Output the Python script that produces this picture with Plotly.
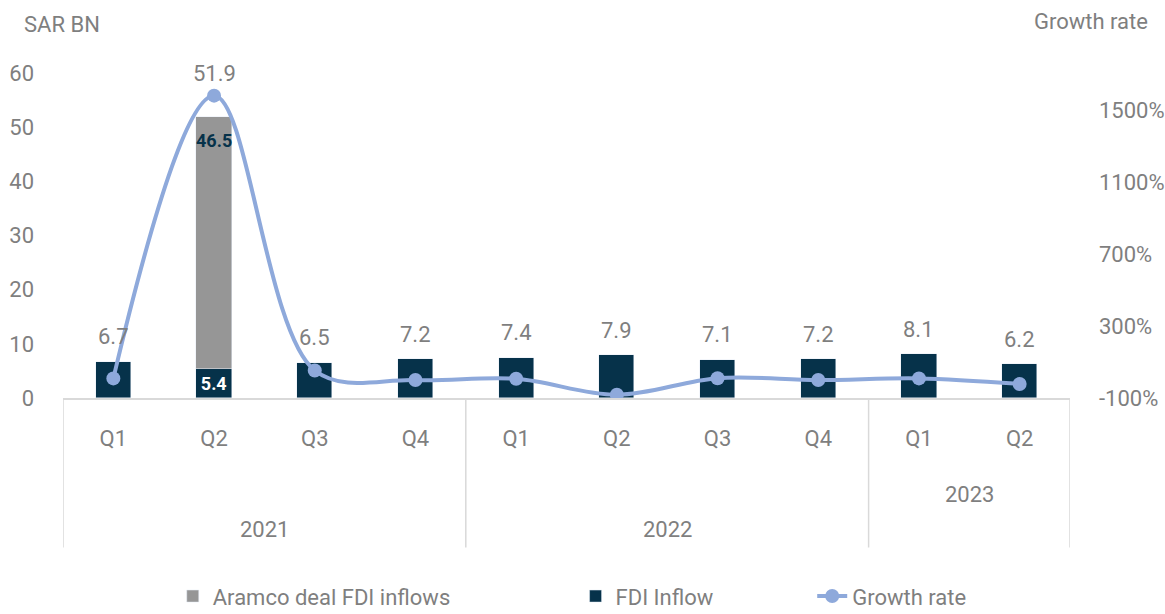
import plotly.graph_objects as go

quarters = ["Q1", "Q2", "Q3", "Q4", "Q1", "Q2", "Q3", "Q4", "Q1", "Q2"]
years = ["2021", "2022", "2023"]
year_spans = [(0, 3), (4, 7), (8, 9)]
fdi_inflow = [6.7, 5.4, 6.5, 7.2, 7.4, 7.9, 7.1, 7.2, 8.1, 6.2]
aramco_deal = [None, 46.5, None, None, None, None, None, None, None, None]
totals = [6.7, 51.9, 6.5, 7.2, 7.4, 7.9, 7.1, 7.2, 8.1, 6.2]
growth_rate = [9, 1580, 53, 0, 7, -82, 10, 0, 9, -22]
left_ticks = [0, 10, 20, 30, 40, 50, 60]
right_ticks = [-100, 300, 700, 1100, 1500]
right_tick_text = ["-100%", "300%", "700%", "1100%", "1500%"]

x = list(range(len(quarters)))

NAVY = "#06324A"
GRAY_BAR = "#969696"
LINE = "#8EA9DB"
TXT = "#7f7f7f"
FONT = "Roboto, Arial, sans-serif"
FS = 22

fig = go.Figure()

fig.add_trace(go.Bar(
    x=x, y=fdi_inflow, name="FDI Inflow", marker_color=NAVY, width=0.35,
    text=[f"{v:.1f}" if a else "" for v, a in zip(fdi_inflow, aramco_deal)],
    textposition="inside", insidetextanchor="middle", textangle=0,
    textfont=dict(color="white", size=18, family=FONT, weight="bold"),
    legend="legend2", hoverinfo="skip",
))
fig.add_trace(go.Bar(
    x=x, y=aramco_deal, name="Aramco deal FDI inflows", marker_color=GRAY_BAR, width=0.35,
    legend="legend", hoverinfo="skip",
))
fig.add_trace(go.Scatter(
    x=x, y=growth_rate, name="Growth rate", yaxis="y2", mode="lines+markers",
    line=dict(color=LINE, width=4, shape="spline", smoothing=1.0),
    marker=dict(color=LINE, size=14), legend="legend3", hoverinfo="skip",
))

# Aramco segment labels, near the top of the gray segment
for i, (a, t) in enumerate(zip(aramco_deal, totals)):
    if a:
        fig.add_annotation(x=x[i], y=t, xref="x", yref="y", text=f"<b>{a:.1f}</b>",
                           showarrow=False, yshift=-24,
                           font=dict(size=18, color=NAVY, family=FONT))

# total labels above bars
for i, t in enumerate(totals):
    fig.add_annotation(x=x[i], y=t, xref="x", yref="y", text=f"{t:.1f}",
                       showarrow=False, yshift=43 if t > 40 else 25,
                       font=dict(size=FS, color=TXT, family=FONT))

# year labels and dividers
year_label_y = [-0.406, -0.406, -0.298]
for yr, (a, b), yy in zip(years, year_spans, year_label_y):
    fig.add_annotation(x=(a + b) / 2, y=yy, xref="x", yref="paper", text=yr,
                       yanchor="middle", showarrow=False,
                       font=dict(size=FS, color=TXT, family=FONT))
divs = [-0.5] + [b + 0.5 for (a, b) in year_spans]
for d in divs:
    fig.add_shape(type="line", xref="x", yref="paper", x0=d, x1=d, y0=0, y1=-0.46,
                  line=dict(color="#d9d9d9", width=1.5))

fig.add_annotation(xref="paper", yref="paper", x=(22 - 63) / 1007, y=(398 - 25) / 325,
                   text="SAR BN", showarrow=False, xanchor="left", yanchor="middle",
                   font=dict(size=FS, color=TXT, family=FONT))
fig.add_annotation(xref="paper", yref="paper", x=(1150 - 63) / 1007, y=(398 - 22) / 325,
                   text="Growth rate", showarrow=False, xanchor="right", yanchor="middle",
                   font=dict(size=FS, color=TXT, family=FONT))

legend_common = dict(orientation="h", yanchor="middle", y=-0.61, xanchor="left",
                     font=dict(size=FS, color=TXT, family=FONT), bgcolor="rgba(0,0,0,0)")

fig.update_layout(
    width=1165, height=614,
    margin=dict(l=63, r=95, t=73, b=216, autoexpand=False),
    paper_bgcolor="white", plot_bgcolor="white",
    barmode="stack", bargap=0,
    font=dict(family=FONT, color=TXT, size=FS),
    xaxis=dict(range=[-0.5, 9.5], tickmode="array", tickvals=x, ticktext=quarters,
               showgrid=False, zeroline=False, showline=True, linecolor="#d9d9d9",
               linewidth=1.5, ticks="", ticklabelstandoff=20, automargin=False,
               tickfont=dict(size=FS, color=TXT, family=FONT)),
    yaxis=dict(range=[0, 60], tickmode="array", tickvals=left_ticks, showgrid=False,
               zeroline=False, showline=False, ticks="", ticklabelstandoff=28,
               automargin=False, tickfont=dict(size=FS, color=TXT, family=FONT)),
    yaxis2=dict(range=[-100, 1706], overlaying="y", side="right", tickmode="array",
                tickvals=right_ticks, ticktext=right_tick_text,
                showgrid=False, zeroline=False, showline=False, ticks="",
                ticklabelstandoff=28, automargin=False,
                tickfont=dict(size=FS, color=TXT, family=FONT)),
    legend=dict(legend_common, x=0.109),
    legend2=dict(legend_common, x=0.509),
    legend3=dict(legend_common, x=0.744),
    showlegend=True,
)

fig.write_html("out.html", config={"displayModeBar": False},
               post_script="document.body.style.margin='0';")
